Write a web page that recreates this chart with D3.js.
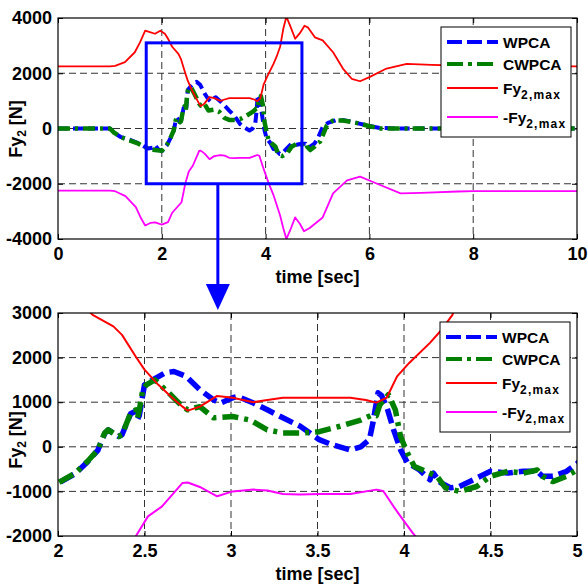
<!DOCTYPE html>
<html>
<head>
<meta charset="utf-8">
<script src="https://cdnjs.cloudflare.com/ajax/libs/d3/7.8.5/d3.min.js"></script>
<style>
  body { margin: 0; background: #fff; }
  svg text { font-family: "Liberation Sans", Arial, sans-serif; font-weight: bold; fill: #000; }
</style>
</head>
<body>
<div class="chart"></div>
<script>
// Fy2 lateral force, full run (top) and zoom 2..5 s (bottom)

var svgWidth = 588;
var svgHeight = 585;

// tick values
var topXTicks = [0, 2, 4, 6, 8, 10];
var topYTicks = [-4000, -2000, 0, 2000, 4000];
var botXTicks = [2, 2.5, 3, 3.5, 4, 4.5, 5];
var botYTicks = [-2000, -1000, 0, 1000, 2000, 3000];

// zoom window marked on the top plot [t0, t1, vLow, vHigh], arrow time
var zoomBox = [1.7, 4.7, -2000, 3100];
var arrowT = 3.08;

// series: [time sec, force N]
var wpca = [
  [0, 0], [1.0, 0], [1.08, -150], [1.2, -300], [1.4, -420], [1.55, -540], [1.73, -720],
  [1.82, -700], [1.87, -600], [1.93, -750], [2.0, -820], [2.1, -600], [2.17, -340],
  [2.23, -80], [2.27, 300], [2.29, 380], [2.35, 230], [2.37, 270], [2.42, 740], [2.45, 800],
  [2.46, 620], [2.47, 700], [2.5, 1390], [2.56, 1530], [2.62, 1660], [2.67, 1690],
  [2.74, 1580], [2.82, 1280], [2.9, 1050], [2.94, 980], [3.01, 1100], [3.04, 1130],
  [3.13, 980], [3.21, 830], [3.3, 650], [3.4, 460], [3.51, 160], [3.59, 40], [3.69, -70],
  [3.75, 0], [3.8, 160], [3.82, 530], [3.85, 1210], [3.87, 1150], [3.9, 900], [3.94, 380],
  [3.98, -70], [4.02, -360], [4.09, -520], [4.15, -740], [4.16, -630], [4.17, -590],
  [4.21, -800], [4.27, -920], [4.32, -890], [4.4, -740], [4.5, -550], [4.6, -590],
  [4.69, -550], [4.77, -550], [4.8, -660], [4.86, -660], [4.94, -550], [5.0, -380],
  [5.1, 50], [5.2, 200], [5.35, 300], [5.5, 300], [5.69, 230], [5.95, 110], [6.2, 20],
  [6.5, 0], [10, 0]
];
var cwpca = [
  [0, 0], [1.0, 0], [1.08, -150], [1.2, -300], [1.29, -370], [1.54, -540], [1.73, -720],
  [1.87, -780], [2.0, -810], [2.1, -590], [2.17, -330], [2.23, -70], [2.27, 310],
  [2.29, 380], [2.35, 230], [2.37, 270], [2.42, 760], [2.45, 830], [2.46, 650], [2.47, 820],
  [2.49, 1280], [2.51, 1390], [2.56, 1500], [2.64, 1210], [2.72, 900], [2.75, 830],
  [2.82, 900], [2.9, 650], [3.01, 680], [3.11, 600], [3.21, 380], [3.3, 310], [3.42, 310],
  [3.51, 340], [3.63, 460], [3.75, 600], [3.82, 720], [3.84, 700], [3.86, 940], [3.91, 1170],
  [3.95, 830], [3.98, 230], [4.02, -140], [4.06, -440], [4.13, -560], [4.19, -660],
  [4.24, -920], [4.32, -1000], [4.42, -890], [4.5, -660], [4.6, -550], [4.69, -590],
  [4.77, -520], [4.8, -660], [4.86, -780], [4.94, -660], [5.0, -520], [5.05, -480],
  [5.18, 110], [5.3, 290], [5.49, 290], [5.69, 230], [5.95, 110], [6.2, 0], [10, 0]
];
var fyMax = [
  [0, 2250], [1.0, 2250], [1.1, 2270], [1.29, 2400], [1.48, 2760], [1.58, 3120],
  [1.68, 3540], [1.77, 3490], [1.87, 3430], [1.97, 3540], [2.06, 3430], [2.12, 3250],
  [2.2, 2960], [2.32, 2700], [2.37, 2510], [2.45, 2020], [2.5, 1730], [2.58, 1390],
  [2.66, 1100], [2.72, 900], [2.75, 810], [2.82, 900], [2.92, 1140], [3.01, 1100],
  [3.13, 1000], [3.21, 1050], [3.3, 1100], [3.5, 1100], [3.69, 1100], [3.78, 1050],
  [3.84, 990], [3.9, 1100], [3.96, 1580], [4.03, 1880], [4.15, 2330], [4.21, 2590],
  [4.28, 2960], [4.34, 3600], [4.4, 4050], [4.47, 3730], [4.57, 3250], [4.66, 3450],
  [4.75, 3720], [4.82, 3650], [4.95, 3300], [5.1, 3190], [5.3, 2760], [5.49, 2170],
  [5.66, 1800], [5.82, 1710], [6.0, 1860], [6.33, 2170], [6.72, 2340], [7.2, 2300],
  [7.6, 2280], [8, 2270], [9, 2260], [10, 2250]
];
var fyMaxNeg = [
  [0, -2250], [1.0, -2250], [1.1, -2270], [1.3, -2450], [1.5, -2850], [1.6, -3250],
  [1.68, -3510], [1.78, -3420], [1.87, -3400], [2.0, -3480], [2.12, -3390], [2.2, -3050],
  [2.38, -2670], [2.455, -1970], [2.52, -1560], [2.6, -1340], [2.72, -810], [2.75, -800],
  [2.82, -900], [2.92, -1110], [3.01, -1000], [3.13, -960], [3.21, -980], [3.3, -1060],
  [3.4, -1070], [3.51, -1060], [3.69, -1060], [3.84, -960], [3.88, -990], [3.94, -1340],
  [3.98, -1560], [4.05, -1930], [4.15, -2400], [4.28, -3150], [4.34, -3600], [4.4, -4000],
  [4.47, -3700], [4.57, -3220], [4.66, -3450], [4.74, -3720], [4.85, -3600], [5.1, -3220],
  [5.3, -2350], [5.57, -1880], [5.82, -1740], [6.15, -2000], [6.6, -2350], [7.0, -2330],
  [7.7, -2280], [8, -2270], [10, -2270]
];

var legendNames = [["WPCA", ""], ["CWPCA", ""], ["Fy", "2,max"], ["-Fy", "2,max"]];

var svg = d3.select(".chart").append("svg")
  .attr("width", svgWidth)
  .attr("height", svgHeight);

// one panel = one axes box
function drawPanel(p) {
  var x = d3.scaleLinear().domain(p.xDomain).range([p.left, p.right]);
  var y = d3.scaleLinear().domain(p.yDomain).range([p.bottom, p.top]);
  var g = svg.append("g");

  g.append("clipPath").attr("id", p.id)
    .append("rect")
    .attr("x", p.left).attr("y", p.top)
    .attr("width", p.right - p.left).attr("height", p.bottom - p.top);

  // dashed grid
  g.selectAll("line.gx")
    .data(p.xTicks.slice(1, -1))
    .enter().append("line")
    .attr("x1", d => x(d)).attr("x2", d => x(d))
    .attr("y1", p.top).attr("y2", p.bottom)
    .attr("stroke", "#333").attr("stroke-width", 1).attr("stroke-dasharray", "7,4");
  g.selectAll("line.gy")
    .data(p.yTicks.slice(1, -1))
    .enter().append("line")
    .attr("x1", p.left).attr("x2", p.right)
    .attr("y1", d => y(d)).attr("y2", d => y(d))
    .attr("stroke", "#333").attr("stroke-width", 1).attr("stroke-dasharray", "7,4");

  // axes, ticks inward
  var ax = g.append("g").attr("transform", `translate(0, ${p.bottom})`)
    .call(d3.axisBottom(x).tickValues(p.xTicks).tickSize(-5).tickPadding(8).tickFormat(d => String(d)));
  var ay = g.append("g").attr("transform", `translate(${p.left}, 0)`)
    .call(d3.axisLeft(y).tickValues(p.yTicks).tickSize(-5).tickPadding(6).tickFormat(d => String(d)));
  var at = g.append("g").attr("transform", `translate(0, ${p.top})`)
    .call(d3.axisTop(x).tickValues(p.xTicks).tickSize(-5).tickFormat(""));
  var ar = g.append("g").attr("transform", `translate(${p.right}, 0)`)
    .call(d3.axisRight(y).tickValues(p.yTicks).tickSize(-5).tickFormat(""));
  [ax, ay, at, ar].forEach(function(a) {
    a.select(".domain").remove();
    a.selectAll("text").attr("font-size", 18).attr("font-family", null).attr("fill", "#000");
    a.selectAll("line").attr("stroke", "#000");
  });

  // curves
  var line = d3.line().x(d => x(d[0])).y(d => y(d[1]));
  var curves = g.append("g").attr("clip-path", `url(#${p.id})`);
  p.series.forEach(function(s) {
    curves.append("path")
      .datum(s.data)
      .attr("d", line)
      .attr("fill", "none")
      .attr("stroke", s.color)
      .attr("stroke-width", s.width)
      .attr("stroke-dasharray", s.dash)
      .attr("stroke-linejoin", "round");
  });

  // frame
  g.append("rect")
    .attr("x", p.left).attr("y", p.top)
    .attr("width", p.right - p.left).attr("height", p.bottom - p.top)
    .attr("fill", "none").attr("stroke", "#000").attr("stroke-width", 1.2);

  // axis titles
  g.append("text")
    .attr("x", (p.left + p.right) / 2).attr("y", p.bottom + 44)
    .attr("text-anchor", "middle").attr("font-size", 18)
    .text("time [sec]");

  var yl = g.append("text")
    .attr("transform", `translate(22, ${p.yLabelCenter}) rotate(-90)`)
    .attr("text-anchor", "middle").attr("font-size", 18);
  yl.append("tspan").text("Fy");
  yl.append("tspan").attr("font-size", 12).attr("dy", 4).text("2");
  yl.append("tspan").attr("dy", -4).text(" [N]");

  // legend
  var lg = g.append("g").attr("transform", `translate(${p.legendX}, ${p.legendY})`);
  lg.append("rect").attr("width", 130).attr("height", 110)
    .attr("fill", "#fff").attr("stroke", "#000").attr("stroke-width", 1);
  var rowY = [15, 37, 61, 90];
  p.series.forEach(function(s, i) {
    lg.append("line")
      .attr("x1", 6).attr("x2", 57)
      .attr("y1", rowY[i]).attr("y2", rowY[i])
      .attr("stroke", s.color)
      .attr("stroke-width", s.legendWidth)
      .attr("stroke-dasharray", s.legendDash);
    var t = lg.append("text")
      .attr("x", 62).attr("y", rowY[i] + 6)
      .attr("font-size", 15.5);
    t.append("tspan").text(legendNames[i][0]);
    if (legendNames[i][1]) {
      t.append("tspan").attr("font-size", 12).attr("dy", 5)
        .attr("letter-spacing", 1.2).text(legendNames[i][1]);
    }
  });

  return { x: x, y: y, g: g };
}

var topPanel = drawPanel({
  id: "clipTop", left: 58, right: 577, top: 18, bottom: 239,
  xDomain: [0, 10], yDomain: [-4000, 4000],
  xTicks: topXTicks, yTicks: topYTicks,
  yLabelCenter: 129, legendX: 441, legendY: 27,
  series: [
    { data: wpca, color: "#0000ff", width: 4, dash: "10,5", legendWidth: 4, legendDash: "15,5" },
    { data: cwpca, color: "#008000", width: 4.5, dash: "12,5,3,5", legendWidth: 4, legendDash: "16,5,4,5" },
    { data: fyMax, color: "#ff0000", width: 1.8, dash: null, legendWidth: 2, legendDash: null },
    { data: fyMaxNeg, color: "#ff00ff", width: 1.8, dash: null, legendWidth: 2, legendDash: null }
  ]
});

var botPanel = drawPanel({
  id: "clipBot", left: 58, right: 577, top: 313, bottom: 536,
  xDomain: [2, 5], yDomain: [-2000, 3000],
  xTicks: botXTicks, yTicks: botYTicks,
  yLabelCenter: 440, legendX: 440, legendY: 322,
  series: [
    { data: wpca, color: "#0000ff", width: 5.5, dash: "15,6", legendWidth: 4, legendDash: "15,5" },
    { data: cwpca, color: "#008000", width: 5.5, dash: "16,6,4,6", legendWidth: 4, legendDash: "16,5,4,5" },
    { data: fyMax, color: "#ff0000", width: 2, dash: null, legendWidth: 2, legendDash: null },
    { data: fyMaxNeg, color: "#ff00ff", width: 2, dash: null, legendWidth: 2, legendDash: null }
  ]
});

// zoom window and arrow on top plot
var tx = topPanel.x, ty = topPanel.y;
svg.append("rect")
  .attr("x", tx(zoomBox[0])).attr("y", ty(zoomBox[3]))
  .attr("width", tx(zoomBox[1]) - tx(zoomBox[0]))
  .attr("height", ty(zoomBox[2]) - ty(zoomBox[3]))
  .attr("fill", "none").attr("stroke", "#0000ff").attr("stroke-width", 3);

var axX = tx(arrowT);
svg.append("line")
  .attr("x1", axX).attr("x2", axX)
  .attr("y1", ty(zoomBox[2])).attr("y2", 286)
  .attr("stroke", "#0000ff").attr("stroke-width", 3);
svg.append("path")
  .attr("d", `M${axX - 12},284 L${axX + 12},284 L${axX},310 Z`)
  .attr("fill", "#0000ff");
</script>
</body>
</html>
